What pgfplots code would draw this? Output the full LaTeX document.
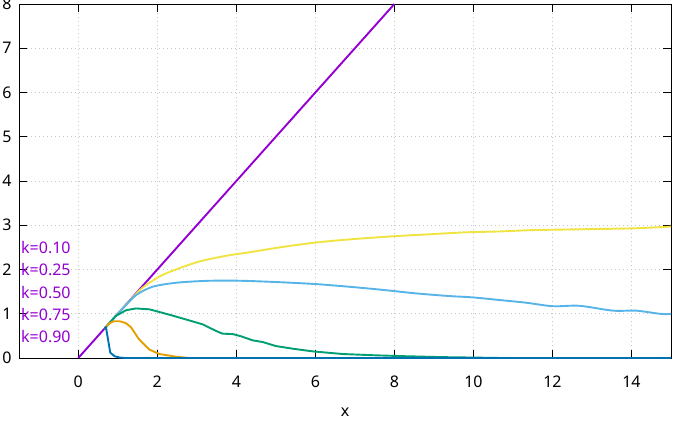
\documentclass[border=0pt]{standalone}
\usepackage{pgfplots}
\pgfplotsset{compat=1.18}
\usepackage{fontspec}
\setmainfont{Noto Sans}
\definecolor{cpurple}{HTML}{9400D3}
\definecolor{cyellow}{HTML}{F0E442}
\definecolor{csky}{HTML}{56B4E9}
\definecolor{cgreen}{HTML}{009E73}
\definecolor{corange}{HTML}{E69F00}
\definecolor{cdblue}{HTML}{0072B2}
\begin{document}
\fontsize{16bp}{19bp}\selectfont
\begin{tikzpicture}
\useasboundingbox (0,0) rectangle (673bp,421bp);
\begin{axis}[
  at={(19bp,63bp)}, anchor=south west,
  scale only axis, width=652bp, height=354bp,
  xmin=-1.5, xmax=15, ymin=0, ymax=8,
  xtick={0,2,...,14}, ytick={0,1,...,8},
  tick align=inside, major tick length=8bp,
  tick style={black, line width=0.6bp},
  axis line style={black, line width=0.8bp},
  grid=major,
  major grid style={gray!45, line width=0.6bp, dash pattern=on 1bp off 3bp},
  /pgf/number format/assume math mode=true,
  ticklabel style={font=\fontsize{16bp}{19bp}\selectfont},
  xticklabel style={yshift=-12bp},
  yticklabel style={xshift=-2bp},
  xlabel={x},
  xlabel style={at={(axis description cs:0.5,0)}, anchor=base, yshift=-58bp, font=\fontsize{16bp}{19bp}\selectfont},
  clip=false,
  every axis plot/.append style={line width=1.9bp, no markers, line join=round},
]
\addplot[cpurple] coordinates {(0,0) (8,8)};
\addplot[cyellow, smooth, tension=0.5] coordinates {(0.66,0.66) (1.1,1.1) (1.35,1.34) (1.63,1.59) (2.05,1.84) (2.47,2.0) (3.06,2.18) (3.74,2.31) (4.33,2.39) (5.17,2.51) (6.02,2.61) (6.86,2.68) (7.96,2.75) (8.97,2.80) (9.81,2.84) (10.66,2.86) (11.5,2.89) (12.77,2.91) (14.03,2.93) (15,2.97)};
\addplot[csky, smooth, tension=0.5] coordinates {(0.66,0.66) (0.95,0.95) (1.16,1.15) (1.46,1.42) (1.88,1.61) (2.47,1.70) (3.15,1.74) (3.74,1.75) (4.33,1.74) (5.17,1.71) (6.02,1.67) (6.86,1.61) (7.7,1.54) (8.55,1.46) (9.39,1.40) (9.98,1.37) (10.66,1.31) (11.33,1.25) (12.01,1.17) (12.68,1.18) (13.53,1.07) (14.12,1.07) (14.71,1.0) (15,0.99)};
\addplot[cgreen] coordinates {(0.66,0.66) (0.95,0.95) (1.21,1.08) (1.46,1.12) (1.8,1.10) (2.3,0.98) (2.73,0.87) (3.15,0.76) (3.49,0.61) (3.65,0.55) (3.91,0.54) (4.12,0.49) (4.41,0.40) (4.67,0.36) (5.0,0.27) (5.43,0.21) (5.93,0.15) (6.69,0.09) (7.54,0.06) (8.3,0.04) (9.2,0.02) (10.0,0.01) (10.7,0.0)};
\addplot[corange] coordinates {(0.66,0.66) (0.78,0.78) (0.9,0.83) (1.05,0.83) (1.2,0.79) (1.33,0.70) (1.54,0.42) (1.8,0.19) (2.05,0.09) (2.47,0.03) (2.8,0.0)};
\addplot[cdblue] coordinates {(0.66,0.66) (0.70,0.70) (0.81,0.12) (0.92,0.04) (1.05,0.01) (1.2,0) (15,0)};
\node[anchor=west, text=cpurple, inner sep=0pt] at (axis cs:-1.45,2.5) {k=0.10};
\node[anchor=west, text=cpurple, inner sep=0pt] at (axis cs:-1.45,1.99) {k=0.25};
\node[anchor=west, text=cpurple, inner sep=0pt] at (axis cs:-1.45,1.49) {k=0.50};
\node[anchor=west, text=cpurple, inner sep=0pt] at (axis cs:-1.45,0.99) {k=0.75};
\node[anchor=west, text=cpurple, inner sep=0pt] at (axis cs:-1.45,0.48) {k=0.90};
\end{axis}
\end{tikzpicture}
\end{document}
